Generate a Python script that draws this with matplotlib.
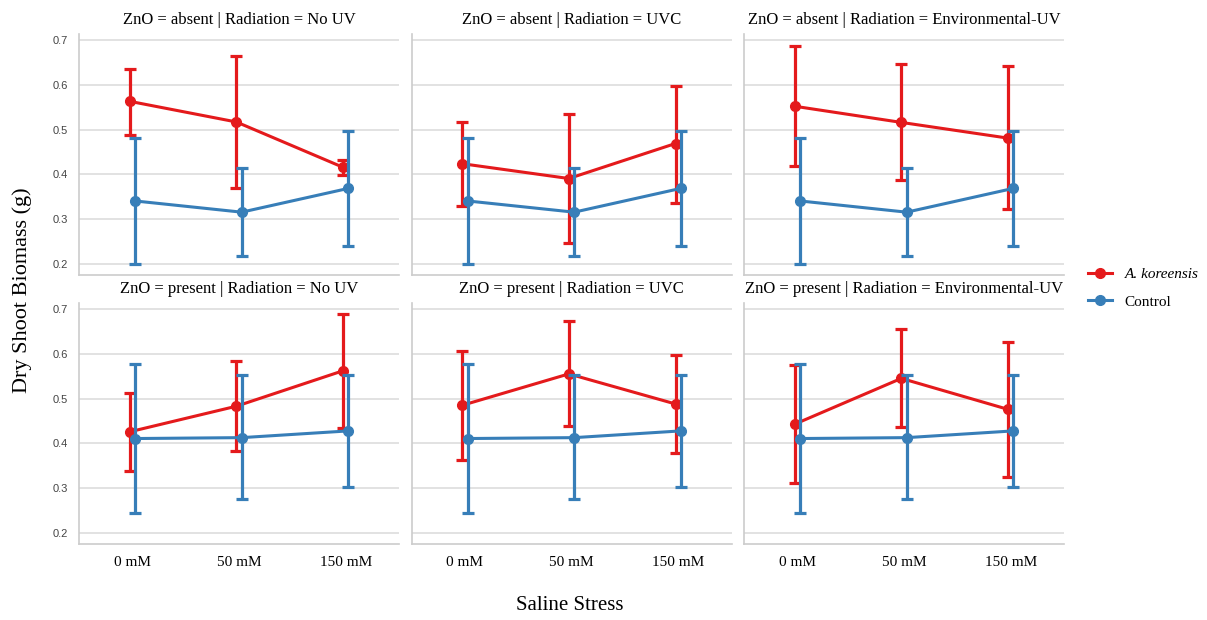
import matplotlib
matplotlib.use("Agg")
import matplotlib.pyplot as plt
from matplotlib.lines import Line2D
import numpy as np

categories = ["0 mM", "50 mM", "150 mM"]
zno_levels = ["absent", "present"]
radiation_levels = ["No UV", "UVC", "Environmental-UV"]

# A. koreensis (rows: ZnO absent/present; cols: radiation)
kor_mean = [
    [[0.563, 0.517, 0.416], [0.424, 0.391, 0.469], [0.552, 0.516, 0.481]],
    [[0.426, 0.483, 0.562], [0.485, 0.555, 0.488], [0.443, 0.545, 0.476]],
]
kor_lo = [
    [[0.489, 0.369, 0.399], [0.330, 0.248, 0.337], [0.418, 0.387, 0.322]],
    [[0.339, 0.384, 0.434], [0.364, 0.438, 0.379], [0.311, 0.436, 0.326]],
]
kor_hi = [
    [[0.636, 0.665, 0.433], [0.517, 0.535, 0.598], [0.687, 0.647, 0.641]],
    [[0.513, 0.584, 0.689], [0.605, 0.673, 0.597], [0.574, 0.655, 0.625]],
]
# Control (same across radiation within a ZnO row)
ctl_mean = [[0.341, 0.316, 0.369], [0.411, 0.413, 0.428]]
ctl_lo = [[0.200, 0.218, 0.241], [0.244, 0.276, 0.304]]
ctl_hi = [[0.481, 0.414, 0.497], [0.578, 0.552, 0.552]]

RED = "#e41a1c"
BLUE = "#377eb8"
SERIF = ["Liberation Serif", "DejaVu Serif"]
SANS = ["Liberation Sans", "DejaVu Sans"]

fig = plt.figure(figsize=(12.07, 6.2), dpi=100)

lefts = [79 / 1207, 411.5 / 1207, 744 / 1207]
width = 320 / 1207
bottoms = [1 - 275 / 620, 1 - 544 / 620]
height = 241 / 620

x = np.arange(len(categories))
dodge = 0.025

def draw(ax, mean, lo, hi, color, off, z):
    m = np.array(mean); l = np.array(lo); h = np.array(hi)
    ax.errorbar(x + off, m, yerr=[m - l, h - m], color=color, lw=2.2,
                elinewidth=2.3, capsize=4.3, capthick=2.3, marker="o",
                markersize=7, zorder=z)

for r in range(2):
    for c in range(3):
        ax = fig.add_axes([lefts[c], bottoms[r], width, height])
        draw(ax, kor_mean[r][c], kor_lo[r][c], kor_hi[r][c], RED, -dodge, 3)
        draw(ax, ctl_mean[r], ctl_lo[r], ctl_hi[r], BLUE, dodge, 4)
        ax.set_xlim(-0.5, 2.5)
        ax.set_ylim(0.176, 0.713)
        ax.set_yticks([0.2, 0.3, 0.4, 0.5, 0.6, 0.7])
        ax.grid(axis="y", color="#dddddd", lw=1.2, zorder=0)
        ax.set_axisbelow(True)
        for s in ["top", "right"]:
            ax.spines[s].set_visible(False)
        for s in ["left", "bottom"]:
            ax.spines[s].set_color("#cccccc")
            ax.spines[s].set_linewidth(1.2)
        ax.tick_params(length=0)
        ax.set_xticks(x)
        if r == 1:
            ax.set_xticklabels(categories, fontsize=11, family=SERIF)
            ax.tick_params(axis="x", pad=9)
        else:
            ax.set_xticklabels([])
        if c == 0:
            ax.set_yticklabels(["0.2", "0.3", "0.4", "0.5", "0.6", "0.7"],
                               fontsize=8, family=SANS, color="#444444")
            ax.tick_params(axis="y", pad=8)
        else:
            ax.set_yticklabels([])
        ax.set_title(f"ZnO = {zno_levels[r]} | Radiation = {radiation_levels[c]}",
                     fontsize=12, family=SERIF, pad=7)

fig.text(22 / 1207, 1 - 290 / 620, "Dry Shoot Biomass (g)", rotation=90,
         ha="center", va="center", fontsize=16, family=SERIF)
fig.text(570 / 1207, 1 - 605 / 620, "Saline Stress", ha="center",
         va="center", fontsize=15, family=SERIF)

handles = [
    Line2D([], [], color=RED, lw=2.2, marker="o", markersize=7),
    Line2D([], [], color=BLUE, lw=2.2, marker="o", markersize=7),
]
leg = fig.legend(handles, ["A. koreensis", "Control"], loc="center left",
                 bbox_to_anchor=(1074 / 1207, 1 - 288 / 620), frameon=False,
                 prop={"family": SERIF, "size": 11}, handlelength=1.6,
                 labelspacing=0.9)
leg.get_texts()[0].set_fontstyle("italic")

fig.savefig("out.png", dpi=100)
